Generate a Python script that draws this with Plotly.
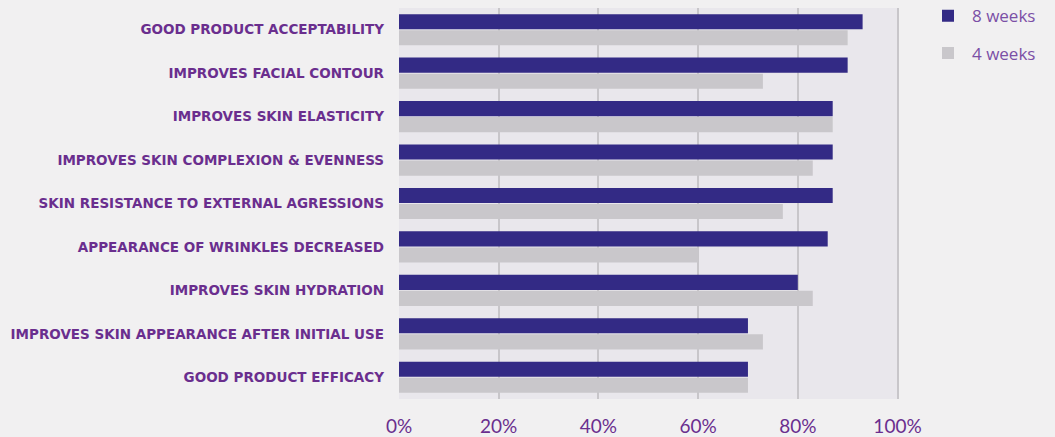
import plotly.graph_objects as go

categories = [
    "GOOD PRODUCT ACCEPTABILITY",
    "IMPROVES FACIAL CONTOUR",
    "IMPROVES SKIN ELASTICITY",
    "IMPROVES SKIN COMPLEXION & EVENNESS",
    "SKIN RESISTANCE TO EXTERNAL AGRESSIONS",
    "APPEARANCE OF WRINKLES DECREASED",
    "IMPROVES SKIN HYDRATION",
    "IMPROVES SKIN APPEARANCE AFTER INITIAL USE",
    "GOOD PRODUCT EFFICACY",
]
weeks8 = [93, 90, 87, 87, 87, 86, 80, 70, 70]
weeks4 = [90, 73, 87, 83, 77, 60, 83, 73, 70]
tick_vals = [0, 20, 40, 60, 80, 100]
tick_text = ["0%", "20%", "40%", "60%", "80%", "100%"]

TEXT = "#6A2E8E"

fig = go.Figure()
fig.add_trace(go.Bar(
    y=categories, x=weeks4, orientation="h", name="4 weeks",
    marker=dict(color="#C9C7CB", line=dict(width=0)),
    legendrank=2, legendgroup="b",
))
fig.add_trace(go.Bar(
    y=categories, x=weeks8, orientation="h", name="8 weeks",
    marker=dict(color="#332A85", line=dict(width=0)),
    legendrank=1, legendgroup="a",
))

fig.update_layout(
    width=1055, height=437,
    margin=dict(l=399, r=156, t=8, b=38, autoexpand=False),
    paper_bgcolor="#F1F0F1",
    plot_bgcolor="#E9E7EC",
    barmode="group",
    bargap=0.26,
    bargroupgap=0.06,
    showlegend=True,
    hovermode=False,
    legend=dict(
        x=1.05, y=1.025, xanchor="left", yanchor="top",
        font=dict(family="Open Sans", size=17, color="#7B4FA6"),
        bgcolor="rgba(0,0,0,0)",
        tracegroupgap=12,
        itemwidth=38,
        traceorder="grouped",
    ),
    xaxis=dict(
        range=[0, 100.3],
        tickvals=tick_vals, ticktext=tick_text,
        showgrid=True, gridcolor="#C8C6CA", gridwidth=2,
        zeroline=False, showline=False,
        tickfont=dict(family="Lato", size=19, color=TEXT),
        ticks="", ticklabelstandoff=14,
        fixedrange=True,
    ),
    yaxis=dict(
        categoryorder="array", categoryarray=categories[::-1],
        showgrid=False, zeroline=False, showline=False,
        tickfont=dict(family="DejaVu Sans", size=13.5, color=TEXT, weight="bold"),
        ticks="", ticklabelstandoff=14,
        fixedrange=True,
    ),
)

fig.write_html(
    "out.html",
    config={"displayModeBar": False, "staticPlot": True},
    post_script="document.body.style.margin='0';document.body.style.background='#F1F0F1';",
)
